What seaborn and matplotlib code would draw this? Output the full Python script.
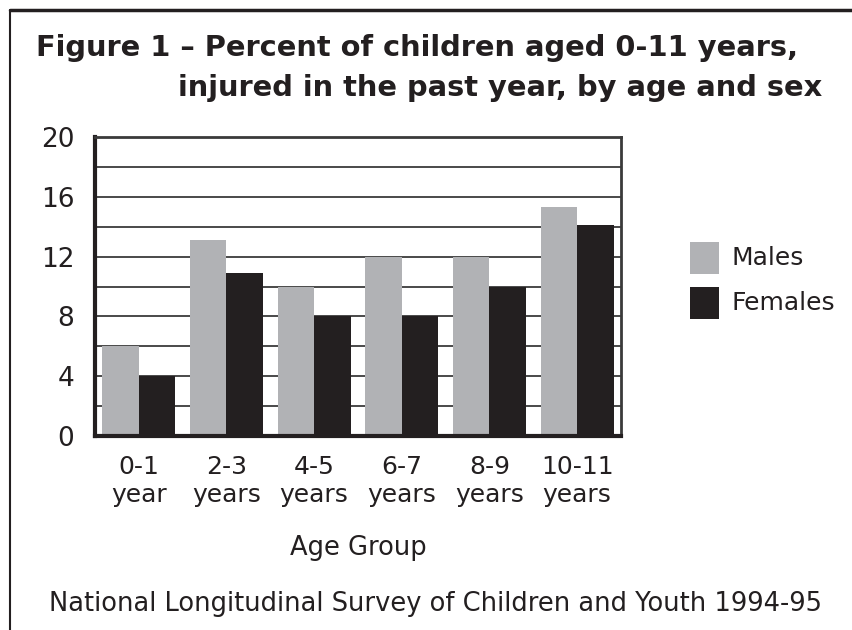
import matplotlib
matplotlib.use("Agg")
import matplotlib.pyplot as plt
import seaborn as sns
import pandas as pd
from matplotlib.patches import Rectangle
from matplotlib.lines import Line2D

age_groups = ["0-1\nyear", "2-3\nyears", "4-5\nyears", "6-7\nyears", "8-9\nyears", "10-11\nyears"]
males = [6, 13.1, 10, 12, 12, 15.3]
females = [4, 10.9, 8, 8, 10, 14.1]
y_ticks = [0, 4, 8, 12, 16, 20]
sexes = ["Males", "Females"]
colors = ["#b1b2b5", "#231f20"]

df = pd.DataFrame({
    "Age Group": age_groups * 2,
    "Percent": males + females,
    "Sex": [sexes[0]] * len(age_groups) + [sexes[1]] * len(age_groups),
})

sns.set_theme(style="white")
plt.rcParams["font.family"] = ["DejaVu Sans"]

fig = plt.figure(figsize=(8.52, 6.3), dpi=100)
ax = fig.add_axes([95 / 852, 1 - 436 / 630, 526 / 852, 299 / 630])

sns.barplot(data=df, x="Age Group", y="Percent", hue="Sex", palette=colors,
            width=0.83, saturation=1, ax=ax, legend=False, zorder=3,
            linewidth=0, edgecolor="none")

ax.set_ylim(0, 20)
ax.set_xlim(-0.5, 5.5)
ax.set_yticks(y_ticks)
ax.set_yticklabels([str(v) for v in y_ticks], fontsize=19, color="#231f20")
ax.tick_params(axis="y", length=0, pad=15)
ax.tick_params(axis="x", length=0, pad=14, labelsize=18, labelcolor="#231f20")
for lbl in ax.get_xticklabels():
    lbl.set_linespacing(1.2)
ax.set_ylabel("")
ax.set_xlabel("Age Group", fontsize=18.5, color="#231f20", labelpad=20)

for v in range(2, 20, 2):
    ax.axhline(v, color="#3a3a3a", lw=1.3, zorder=1)

for side in ["left", "bottom"]:
    ax.spines[side].set_linewidth(3)
    ax.spines[side].set_color("#231f20")
ax.spines["right"].set_linewidth(2)
ax.spines["right"].set_color("#3a3a3a")
ax.spines["top"].set_linewidth(2)
ax.spines["top"].set_color("#3a3a3a")
for s in ax.spines.values():
    s.set_zorder(5)

# legend drawn as squares with labels on the right
for i, (name, col) in enumerate(zip(sexes, colors)):
    y0 = 1 - (274 + 45 * i) / 630
    fig.patches.append(Rectangle((690 / 852, y0), 29 / 852, 32 / 630,
                                 transform=fig.transFigure, facecolor=col, edgecolor="none"))
    fig.text(731 / 852, y0 + 16 / 630, name, fontsize=18, color="#231f20",
             va="center", ha="left")

fig.text(36 / 852, 1 - 48 / 630, "Figure 1 – Percent of children aged 0-11 years,",
         fontsize=20.8, fontweight="bold", color="#231f20", va="center", ha="left")
fig.text(822 / 852, 1 - 88 / 630, "injured in the past year, by age and sex",
         fontsize=20.8, fontweight="bold", color="#231f20", va="center", ha="right")

fig.text(436 / 852, 1 - 604 / 630, "National Longitudinal Survey of Children and Youth 1994-95",
         fontsize=18.5, color="#231f20", va="center", ha="center")

# frame lines along the top and left edges
fig.add_artist(Line2D([10 / 852, 1], [1 - 10 / 630, 1 - 10 / 630], transform=fig.transFigure,
                      color="#231f20", lw=2.5))
fig.add_artist(Line2D([10 / 852, 10 / 852], [1 - 10 / 630, 0], transform=fig.transFigure,
                      color="#231f20", lw=1.5))

fig.savefig("out.png", dpi=100)
